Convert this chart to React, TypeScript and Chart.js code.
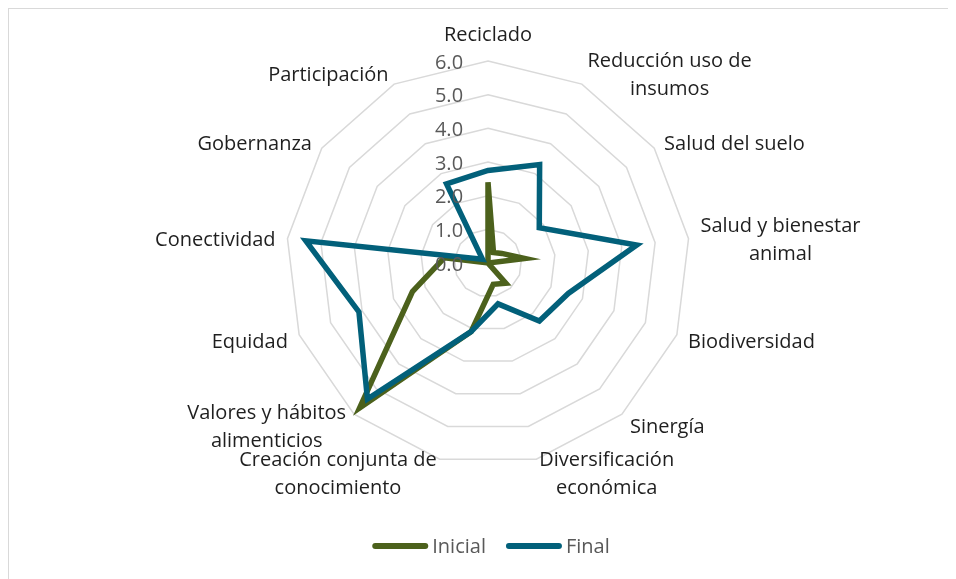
import React, { useEffect, useRef } from 'react';
import { Chart, registerables } from 'chart.js';

Chart.register(...registerables);

const categories: (string | string[])[] = [
  'Reciclado',
  ['Reducción uso de', 'insumos'],
  'Salud del suelo',
  ['Salud y bienestar', 'animal'],
  'Biodiversidad',
  'Sinergía',
  ['Diversificación', 'económica'],
  ['Creación conjunta de', 'conocimiento'],
  ['Valores y hábitos', 'alimenticios'],
  'Equidad',
  'Conectividad',
  'Gobernanza',
  'Participación',
];

const inicial = [2.4, 0.35, 0.5, 1.1, 0, 0.8, 0.65, 2.1, 5.75, 2.4, 1.3, 0, 0];
const final = [2.75, 3.3, 1.85, 4.45, 2.55, 2.3, 1.25, 2.1, 5.4, 4.1, 5.45, 0.2, 2.65];

const tickValues = [0, 1, 2, 3, 4, 5, 6];
const tickLabels = ['0.0', '1.0', '2.0', '3.0', '4.0', '5.0', '6.0'];

const seriesNames = ['Inicial', 'Final'];
const seriesColors = ['#4C611C', '#02607A'];

const FONT = '20px "Open Sans", "Noto Sans", sans-serif';

export default function App() {
  const ref = useRef<HTMLCanvasElement>(null);

  useEffect(() => {
    document.body.style.overflow = 'hidden';
    document.documentElement.style.overflow = 'hidden';

    const overlay = {
      id: 'overlayText',
      afterDraw(chart: any) {
        const scale = chart.scales.r;
        const ctx = chart.ctx as CanvasRenderingContext2D;
        const R = scale.drawingArea;
        const n = categories.length;
        ctx.save();
        ctx.font = FONT;
        ctx.textBaseline = 'middle';

        // category labels
        ctx.fillStyle = '#1f1f1f';
        ctx.textAlign = 'center';
        const lh = 28;
        categories.forEach((lab, i) => {
          const lines = Array.isArray(lab) ? lab : [lab];
          const p = scale.getPointPosition(i, R);
          const a = (2 * Math.PI * i) / n;
          const s = Math.sin(a);
          const c = Math.cos(a);
          const w = Math.max(...lines.map((l) => ctx.measureText(l).width));
          const h = lines.length * lh;
          let cx: number;
          let cy: number;
          if (Math.abs(s) < 0.05) {
            cx = p.x;
            cy = p.y - c * (12 + h / 2);
          } else {
            const ax = p.x + s * 12;
            cx = s > 0 ? ax + w / 2 : ax - w / 2;
            cy = p.y - c * 13 + 3;
          }
          lines.forEach((l, k) => {
            ctx.fillText(l, cx, cy + (k - (lines.length - 1) / 2) * lh);
          });
        });

        // tick labels
        ctx.fillStyle = '#595959';
        ctx.textAlign = 'center';
        tickValues.forEach((v, i) => {
          const d = scale.getDistanceFromCenterForValue(v);
          ctx.fillText(tickLabels[i], scale.xCenter - 39, scale.yCenter - d + 2);
        });

        // legend
        const sym = 56;
        const gap = 4;
        const between = 20;
        const widths = seriesNames.map((s) => ctx.measureText(s).width);
        const total =
          widths.reduce((acc, w) => acc + sym + gap + w, 0) + between * (seriesNames.length - 1);
        let x = scale.xCenter - total / 2 + 3;
        const y = chart.height - 41;
        seriesNames.forEach((name, i) => {
          ctx.strokeStyle = seriesColors[i];
          ctx.lineWidth = 6;
          ctx.lineCap = 'round';
          ctx.beginPath();
          ctx.moveTo(x + 3, y);
          ctx.lineTo(x + sym - 3, y);
          ctx.stroke();
          ctx.fillStyle = '#595959';
          ctx.textAlign = 'left';
          ctx.fillText(name, x + sym + gap, y + 1);
          x += sym + gap + widths[i] + between;
        });
        ctx.restore();
      },
    };

    const chart = new Chart(ref.current as HTMLCanvasElement, {
      type: 'radar',
      data: {
        labels: categories,
        datasets: [
          {
            label: seriesNames[0],
            data: inicial,
            borderColor: seriesColors[0],
            backgroundColor: 'transparent',
            fill: false,
            borderWidth: 5.5,
            pointRadius: 0,
            pointHoverRadius: 0,
            order: 1,
          },
          {
            label: seriesNames[1],
            data: final,
            borderColor: seriesColors[1],
            backgroundColor: 'transparent',
            fill: false,
            borderWidth: 5.5,
            pointRadius: 0,
            pointHoverRadius: 0,
            order: 0,
          },
        ],
      },
      options: {
        responsive: false,
        animation: false,
        devicePixelRatio: 1,
        layout: { padding: { top: 52, bottom: 122, left: 14, right: 0 } },
        plugins: {
          legend: { display: false },
          tooltip: { enabled: false },
        },
        elements: { line: { tension: 0 } },
        scales: {
          r: {
            min: 0,
            max: 6,
            ticks: { display: false, stepSize: 1 },
            pointLabels: { display: false },
            angleLines: { display: false },
            grid: { color: '#d9d9d9', lineWidth: 1.5 },
          },
        },
      } as any,
      plugins: [overlay],
    });
    return () => chart.destroy();
  }, []);

  return (
    <div
      style={{
        position: 'relative',
        width: 946,
        height: 580,
        border: '1px solid #d9d9d9',
        boxSizing: 'border-box',
        background: '#fff',
      }}
    >
      <canvas ref={ref} width={944} height={578} style={{ display: 'block' }} />
    </div>
  );
}
